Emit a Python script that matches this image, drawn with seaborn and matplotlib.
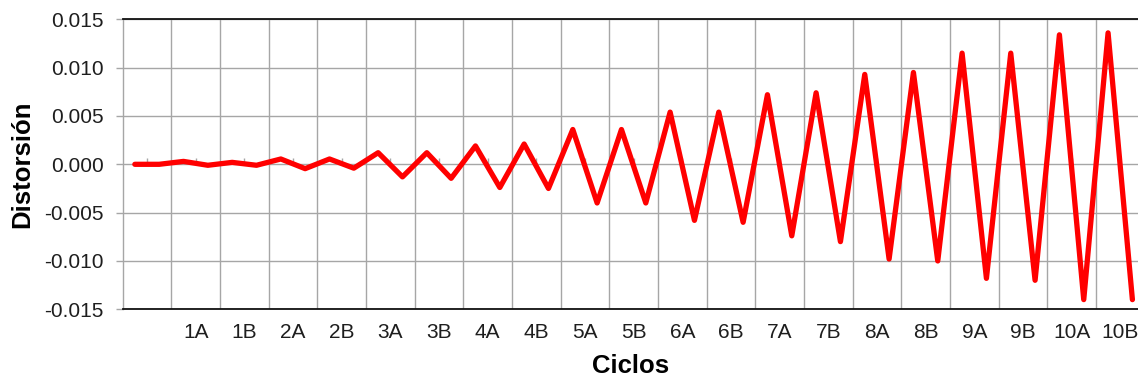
import matplotlib
matplotlib.use("Agg")
import matplotlib.pyplot as plt
from matplotlib.ticker import FixedLocator, FormatStrFormatter
import seaborn as sns
import pandas as pd

# Category labels along the x axis (first cell has no label)
ciclos = ["", "1A", "1B", "2A", "2B", "3A", "3B", "4A", "4B", "5A", "5B",
          "6A", "6B", "7A", "7B", "8A", "8B", "9A", "9B", "10A", "10B"]

# Measured distortion, two readings per half cycle
paso = list(range(42))
distorsion = [
    0.0000, 0.0000, 0.0003, -0.0001, 0.0002, -0.0001,
    0.00055, -0.00045, 0.00055, -0.0004,
    0.0012, -0.0013, 0.0012, -0.00145,
    0.0019, -0.0024, 0.0021, -0.0025,
    0.0036, -0.0040, 0.0036, -0.0040,
    0.0054, -0.0058, 0.0054, -0.0060,
    0.0072, -0.0074, 0.0074, -0.0080,
    0.0093, -0.0098, 0.0095, -0.0100,
    0.0115, -0.0118, 0.0115, -0.0120,
    0.0134, -0.0140, 0.0136, -0.0140,
]

y_ticks = [-0.015, -0.010, -0.005, 0.000, 0.005, 0.010, 0.015]

sns.set_theme(style="white")
plt.rcParams["font.family"] = ["Liberation Sans", "DejaVu Sans"]

grid_color = "#a6a6a6"
text_color = "#1e1e1e"

fig = plt.figure(figsize=(11.38, 3.81), dpi=100)
ax = fig.add_axes([0.1078, 0.1882, 0.8922, 0.7611])

df = pd.DataFrame({"paso": paso, "distorsion": distorsion})
sns.lineplot(data=df, x="paso", y="distorsion", ax=ax, color="#ff0000",
             linewidth=3.8, solid_joinstyle="round", zorder=3)

# each category spans two readings
centros = [0.5 + 2 * k for k in range(len(ciclos))]
limites = [-0.5 + 2 * k for k in range(1, len(ciclos))]

ax.set_xlim(-0.5, 41.23)
ax.set_ylim(-0.015, 0.015)

ax.xaxis.set_major_locator(FixedLocator(centros))
ax.set_xticklabels(ciclos)
ax.xaxis.set_minor_locator(FixedLocator(limites))
ax.yaxis.set_major_locator(FixedLocator(y_ticks))
ax.yaxis.set_major_formatter(FormatStrFormatter("%.3f"))

ax.grid(False)
ax.grid(axis="x", which="minor", color=grid_color, linewidth=1.0)
ax.grid(axis="y", which="major", color=grid_color, linewidth=1.0)
ax.set_axisbelow(True)

ax.tick_params(axis="x", which="major", length=0, pad=10, labelsize=15,
               labelcolor=text_color)
ax.tick_params(axis="x", which="minor", length=0)
ax.tick_params(axis="y", which="major", left=True, length=4.8, width=1.0,
               color=grid_color, pad=9, labelsize=15, labelcolor=text_color)

for side in ("top", "bottom"):
    ax.spines[side].set_color("#111111")
    ax.spines[side].set_linewidth(1.3)
ax.spines["left"].set_color(grid_color)
ax.spines["left"].set_linewidth(1.0)
ax.spines["right"].set_visible(False)

# small category ticks on the zero line
cero = ax.secondary_xaxis(0.5)
cero.xaxis.set_major_locator(FixedLocator(centros))
cero.set_xticklabels([])
cero.tick_params(axis="x", direction="out", length=4, width=1.0, color=grid_color)
for s in cero.spines.values():
    s.set_visible(False)

ax.set_xlabel("Ciclos", fontsize=18.5, fontweight="bold", color="#000000")
ax.set_ylabel("Distorsión", fontsize=18.5, fontweight="bold", color="#000000")
ax.xaxis.set_label_coords(0.5, -0.194)
ax.xaxis.label.set_va("center")
ax.yaxis.set_label_coords(-0.099, 0.5)
ax.yaxis.label.set_va("center")

fig.savefig("out.png", dpi=100)
